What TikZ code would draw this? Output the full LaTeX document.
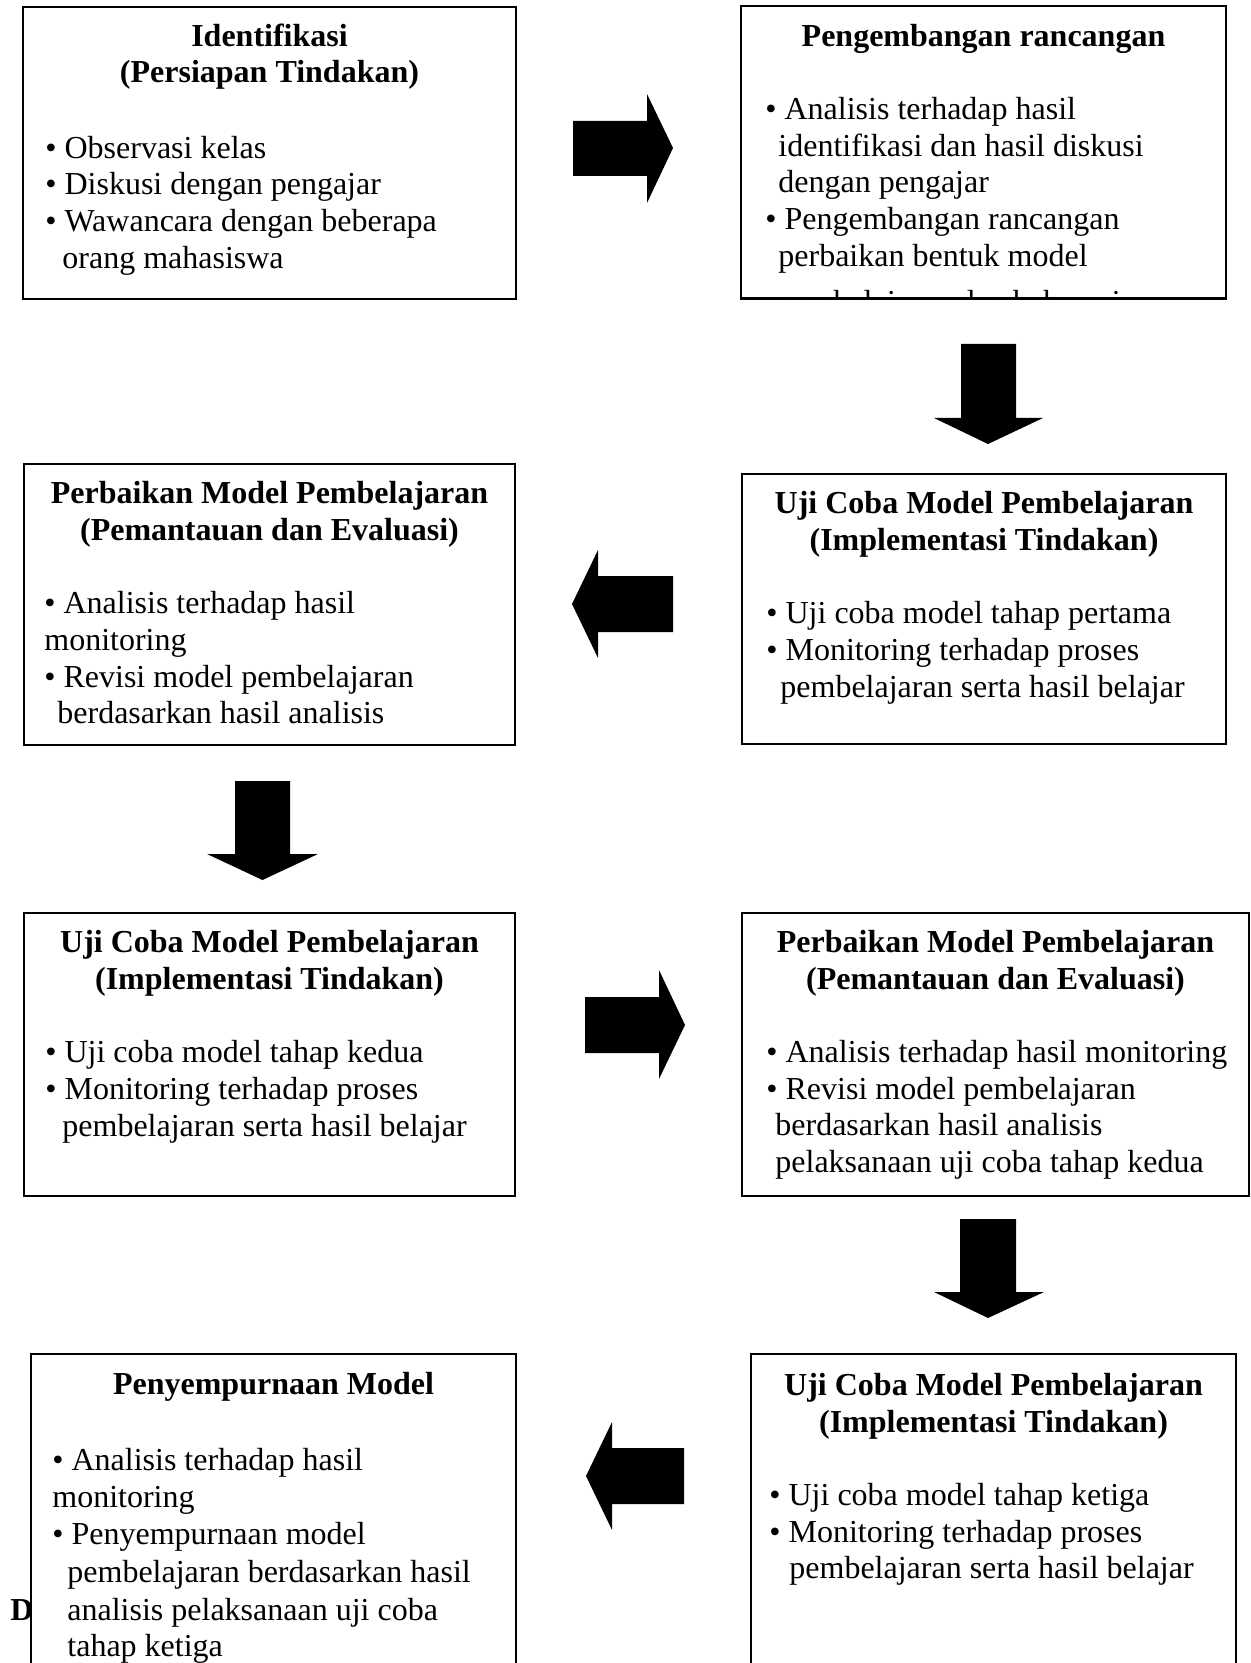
\documentclass[tikz,border=0pt]{standalone}
\usepackage{fontspec}
\setmainfont{Liberation Serif}
\usetikzlibrary{fit}
\tikzset{
  boxnode/.style={draw, line width=1.2pt, fill=white, inner sep=0pt},
  ttl/.style={font=\fontsize{16}{18.4}\selectfont\bfseries, anchor=base, inner sep=0pt},
  bodytxt/.style={font=\fontsize{16}{18.4}\selectfont, anchor=base west, inner sep=0pt},
  blockarrow/.style={fill=black, draw=none}
}
\newcommand\bodyline[4]{\node[bodytxt] (#1) at (#2,#3) {#4};}
\newcommand\titleline[4]{\node[ttl] (#1) at (#2,#3) {#4};}
\begin{document}
\begin{tikzpicture}[x=0.5pt,y=-0.5pt]
\useasboundingbox (0,0) rectangle (1251,1663);
\clip (0,0) rectangle (1251,1663);
\fill[white] (0,0) rectangle (1251,1663);

% stray letter behind bottom-left box
\node[ttl, anchor=base west] (dletter) at (10,1620) {D};

% ---- Box 1
\node[boxnode, fit={(23,7) (516,299)}] (b1) {};
\titleline{b1t1}{269.5}{47}{Identifikasi}
\titleline{b1t2}{269.5}{83}{(Persiapan Tindakan)}
\bodyline{b1l1}{45}{159}{• Observasi kelas}
\bodyline{b1l2}{45}{195}{• Diskusi dengan pengajar}
\bodyline{b1l3}{45}{232}{• Wawancara dengan beberapa}
\bodyline{b1l4}{62}{269}{orang mahasiswa}

% ---- Box 2
\node[boxnode, fit={(741,6) (1226,298)}] (b2) {};
\titleline{b2t1}{983.5}{47}{Pengembangan rancangan}
\bodyline{b2l1}{765}{120}{• Analisis terhadap hasil}
\bodyline{b2l2}{778}{157}{identifikasi dan hasil diskusi}
\bodyline{b2l3}{778}{193}{dengan pengajar}
\bodyline{b2l4}{765}{230}{• Pengembangan rancangan}
\bodyline{b2l5}{778}{267}{perbaikan bentuk model}
\begin{scope}
\clip (742,280) rectangle (1225,296.5);
\bodyline{b2l6}{778}{313}{pembelajaran dan bahan ajar}
\end{scope}
\draw[line width=1.2pt] (b2.south west) -- (b2.south east);

% ---- Box 3
\node[boxnode, fit={(24,464) (515,745)}] (b3) {};
\titleline{b3t1}{269.5}{503}{Perbaikan Model Pembelajaran}
\titleline{b3t2}{269.5}{540}{(Pemantauan dan Evaluasi)}
\bodyline{b3l1}{44}{613}{• Analisis terhadap hasil}
\bodyline{b3l2}{44}{650}{monitoring}
\bodyline{b3l3}{44}{687}{• Revisi model pembelajaran}
\bodyline{b3l4}{57}{723}{berdasarkan hasil analisis}

% ---- Box 4
\node[boxnode, fit={(742,474) (1226,744)}] (b4) {};
\titleline{b4t1}{984}{513}{Uji Coba Model Pembelajaran}
\titleline{b4t2}{984}{550}{(Implementasi Tindakan)}
\bodyline{b4l1}{766}{623}{• Uji coba model tahap pertama}
\bodyline{b4l2}{766}{660}{• Monitoring terhadap proses}
\bodyline{b4l3}{780}{697}{pembelajaran serta hasil belajar}

% ---- Box 5
\node[boxnode, fit={(24,913) (515,1196)}] (b5) {};
\titleline{b5t1}{269.5}{952}{Uji Coba Model Pembelajaran}
\titleline{b5t2}{269.5}{989}{(Implementasi Tindakan)}
\bodyline{b5l1}{45}{1062}{• Uji coba model tahap kedua}
\bodyline{b5l2}{45}{1099}{• Monitoring terhadap proses}
\bodyline{b5l3}{62}{1136}{pembelajaran serta hasil belajar}

% ---- Box 6
\node[boxnode, fit={(742,913) (1249,1196)}] (b6) {};
\titleline{b6t1}{995.5}{952}{Perbaikan Model Pembelajaran}
\titleline{b6t2}{995.5}{989}{(Pemantauan dan Evaluasi)}
\bodyline{b6l1}{766}{1062}{• Analisis terhadap hasil monitoring}
\bodyline{b6l2}{766}{1099}{• Revisi model pembelajaran}
\bodyline{b6l3}{775}{1135}{berdasarkan hasil analisis}
\bodyline{b6l4}{775}{1172}{pelaksanaan uji coba tahap kedua}

% ---- Box 7
\node[boxnode, fit={(751,1354) (1236,1700)}] (b7) {};
\titleline{b7t1}{993.5}{1395}{Uji Coba Model Pembelajaran}
\titleline{b7t2}{993.5}{1432}{(Implementasi Tindakan)}
\bodyline{b7l1}{769}{1505}{• Uji coba model tahap ketiga}
\bodyline{b7l2}{769}{1542}{• Monitoring terhadap proses}
\bodyline{b7l3}{789}{1578}{pembelajaran serta hasil belajar}

% ---- Box 8
\node[boxnode, fit={(31,1354) (516,1700)}] (b8) {};
\titleline{b8t1}{273.5}{1394}{Penyempurnaan Model}
\bodyline{b8l1}{52}{1470}{• Analisis terhadap hasil}
\bodyline{b8l2}{52}{1507}{monitoring}
\bodyline{b8l3}{52}{1544}{• Penyempurnaan model}
\bodyline{b8l4}{67}{1582}{pembelajaran berdasarkan hasil}
\bodyline{b8l5}{67}{1620}{analisis pelaksanaan uji coba}
\bodyline{b8l6}{67}{1656}{tahap ketiga}

% ---- Block arrows
% b1 -> b2
\path[blockarrow] (573,121) -- (647,121) -- (647,94) -- (673,148) -- (647,203) -- (647,176) -- (573,176) -- cycle;
% b2 -> b4
\path[blockarrow] (961,344) -- (1016,344) -- (1016,418) -- (1043,418) -- (988,444) -- (934,418) -- (961,418) -- cycle;
% b4 -> b3
\path[blockarrow] (673,576) -- (598,576) -- (598,550) -- (572,604) -- (598,658) -- (598,632) -- (673,632) -- cycle;
% b3 -> b5
\path[blockarrow] (235,781) -- (290,781) -- (290,854) -- (318,854) -- (262.5,880) -- (207,854) -- (235,854) -- cycle;
% b5 -> b6
\path[blockarrow] (585,997) -- (659,997) -- (659,970) -- (685,1025) -- (659,1079) -- (659,1053) -- (585,1053) -- cycle;
% b6 -> b7
\path[blockarrow] (960,1219) -- (1016,1219) -- (1016,1292) -- (1044,1292) -- (988,1318) -- (934,1292) -- (960,1292) -- cycle;
% b7 -> b8
\path[blockarrow] (684,1448) -- (612,1448) -- (612,1422) -- (586,1476) -- (612,1530) -- (612,1504) -- (684,1504) -- cycle;
\end{tikzpicture}
\end{document}
